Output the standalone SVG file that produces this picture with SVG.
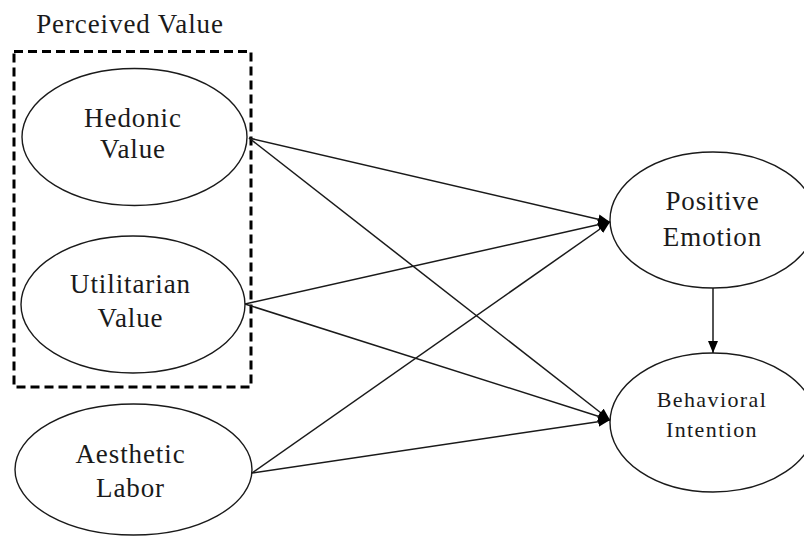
<svg xmlns="http://www.w3.org/2000/svg" width="804" height="536" viewBox="0 0 804 536">
<style>
.node ellipse{fill:#fff;stroke:#1a1a1a;stroke-width:1.4}
text{font-family:"Liberation Serif","Times New Roman",serif;fill:#1a1a1a;text-anchor:middle}
.t{font-size:27px;letter-spacing:0.9px}
.s{font-size:22px;letter-spacing:1.4px}
.conn line{stroke:#1a1a1a;stroke-width:1.5;marker-end:url(#ah)}
</style>
<defs>
<marker id="ah" viewBox="0 0 12 10" refX="12" refY="5" markerWidth="12" markerHeight="10" markerUnits="userSpaceOnUse" orient="auto">
<path d="M0,0 L12,5 L0,10 z" fill="#000"/>
</marker>
</defs>
<rect width="804" height="536" fill="#fff"/>
<g id="perceived-value">
<rect x="14" y="51.5" width="237" height="335.5" fill="none" stroke="#000" stroke-width="3" stroke-dasharray="9,5"/>
<text class="t" x="130" y="33">Perceived Value</text>
</g>
<g id="hedonic" class="node">
<ellipse cx="134.5" cy="137" rx="112.5" ry="68.5"/>
<text class="t" x="133" y="127">Hedonic</text>
<text class="t" x="133" y="158">Value</text>
</g>
<g id="utilitarian" class="node">
<ellipse cx="133" cy="304.5" rx="112" ry="68.5"/>
<text class="t" x="130.5" y="293">Utilitarian</text>
<text class="t" x="130.5" y="327">Value</text>
</g>
<g id="aesthetic" class="node">
<ellipse cx="133.5" cy="469.5" rx="118.5" ry="65.5"/>
<text class="t" x="130.5" y="463">Aesthetic</text>
<text class="t" x="130.5" y="497">Labor</text>
</g>
<g id="positive" class="node">
<ellipse cx="713" cy="220" rx="103" ry="68"/>
<text class="t" x="712.5" y="210">Positive</text>
<text class="t" x="712.5" y="246">Emotion</text>
</g>
<g id="behavioral" class="node">
<ellipse cx="713" cy="422.5" rx="103" ry="69.5"/>
<text class="s" x="712" y="407">Behavioral</text>
<text class="s" x="712" y="437">Intention</text>
</g>
<g id="connectors" class="conn">
<line x1="249" y1="138" x2="610" y2="222"/>
<line x1="249" y1="138" x2="610" y2="420"/>
<line x1="245" y1="304" x2="610" y2="222"/>
<line x1="245" y1="304" x2="610" y2="420"/>
<line x1="252" y1="473" x2="610" y2="222"/>
<line x1="252" y1="473" x2="610" y2="420"/>
<line x1="713" y1="288" x2="713" y2="353"/>
</g>
</svg>
